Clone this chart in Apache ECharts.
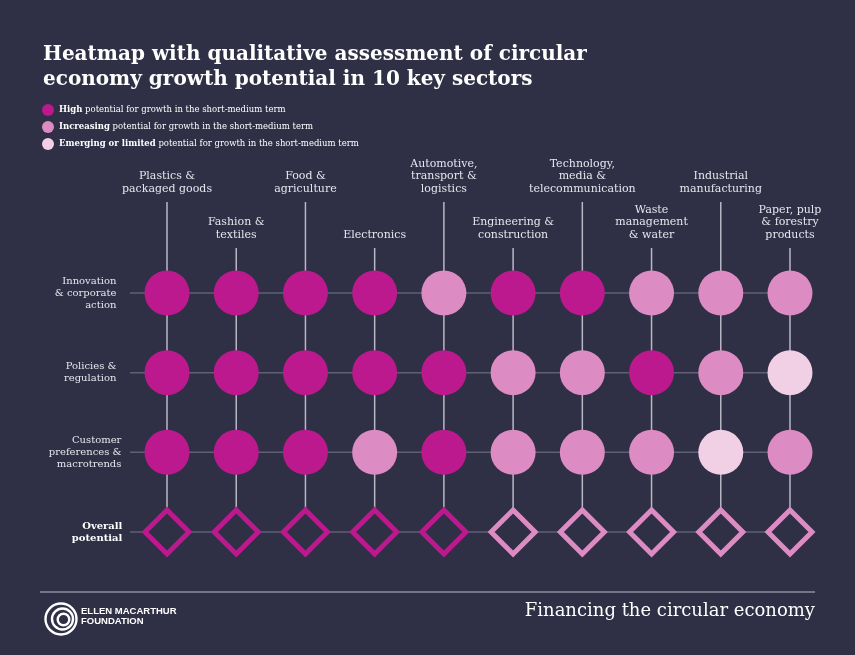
<!DOCTYPE html>
<html><head><meta charset="utf-8">
<script src="https://cdn.jsdelivr.net/npm/echarts@6/dist/echarts.min.js"></script>
<style>html,body{margin:0;padding:0;background:#2f2f45}#c{width:855px;height:655px}</style>
</head><body><div id="c"></div>
<script>
const sectors = ['Plastics &\npackaged goods','Fashion &\ntextiles','Food &\nagriculture','Electronics','Automotive,\ntransport &\nlogistics','Engineering &\nconstruction','Technology,\nmedia &\ntelecommunication','Waste\nmanagement\n& water','Industrial\nmanufacturing','Paper, pulp\n& forestry\nproducts'];
const factors = ['Innovation\n& corporate\naction','Policies &\nregulation','Customer\npreferences &\nmacrotrends','Overall\npotential'];
// 3 = High, 2 = Increasing, 1 = Emerging or limited
const innovation = [3,3,3,3,2,3,3,2,2,2];
const policies   = [3,3,3,3,3,2,2,3,2,1];
const customer   = [3,3,3,2,3,2,2,2,1,2];
const overall    = [3,3,3,3,3,2,2,2,2,2];
const levelNames = {3:'High', 2:'Increasing', 1:'Emerging or limited'};
const levelColors = {3:'#bb198d', 2:'#dd8bc3', 1:'#f1cfe5'};

const SERIF = "'DejaVu Serif', serif";
const BG = '#2f2f45';
const rowsData = [innovation, policies, customer];
const circleSeries = [3,2,1].map(lv => {
  const pts = [];
  rowsData.forEach((arr, r) => arr.forEach((v, c) => { if (v === lv) pts.push([c, r]); }));
  return {
    name: levelNames[lv], type: 'scatter', symbol: 'circle', symbolSize: 45, z: 5,
    itemStyle: {color: levelColors[lv], opacity: 1}, data: pts, silent: true
  };
});
const diamondData = overall.map((v, c) => ({value: [c, 3], itemStyle: {borderColor: levelColors[v]}}));

const chart = echarts.init(document.getElementById('c'));
chart.setOption({
  backgroundColor: BG,
  animation: false,
  title: {
    text: 'Heatmap with qualitative assessment of circular\neconomy growth potential in 10 key sectors',
    left: 38, top: 37,
    textStyle: {color: '#ffffff', fontFamily: SERIF, fontWeight: 'bold', fontSize: 20, lineHeight: 25}
  },
  legend: {
    data: ['High','Increasing','Emerging or limited'],
    orient: 'vertical', left: 37, top: 99, icon: 'circle', itemWidth: 12, itemHeight: 12, itemGap: 5,
    selectedMode: false,
    formatter: n => '{b|' + n + '} potential for growth in the short-medium term',
    textStyle: {color: '#ffffff', fontFamily: SERIF, fontSize: 8.5,
      rich: {b: {fontWeight: 'bold', fontFamily: SERIF, fontSize: 8.5, color: '#ffffff'}}}
  },
  grid: {left: 132.4, right: 30.4, top: 253.2, bottom: 83.2},
  xAxis: {type: 'category', data: sectors, show: false},
  yAxis: {
    type: 'category', data: factors, inverse: true,
    axisLine: {show: false}, axisTick: {show: false}, splitLine: {show: false},
    axisLabel: {
      margin: 10, align: 'right',
      formatter: (v, i) => v.split('\n').map(s => '{' + (i === 3 ? 'b' : (i < 2 ? 'n' : 'm')) + '|' + s + '}').join('\n'),
      rich: {
        n: {color: '#e6e6ee', fontFamily: SERIF, fontSize: 10, lineHeight: 12, padding: [0, 6, 0, 0]},
        m: {color: '#e6e6ee', fontFamily: SERIF, fontSize: 10, lineHeight: 12, padding: [0, 1, 0, 0]},
        b: {color: '#ffffff', fontFamily: SERIF, fontSize: 10, fontWeight: 'bold', lineHeight: 12}
      }
    }
  },
  graphic: [
    {type: 'line', shape: {x1: 40, y1: 592, x2: 815, y2: 592}, style: {stroke: '#8e8ea0', lineWidth: 1.5}},
    {type: 'circle', shape: {cx: 61, cy: 619, r: 15.5}, style: {fill: 'none', stroke: '#ffffff', lineWidth: 2.4}},
    {type: 'circle', shape: {cx: 62.5, cy: 619, r: 10.5}, style: {fill: 'none', stroke: '#ffffff', lineWidth: 2.4}},
    {type: 'circle', shape: {cx: 63.5, cy: 619.5, r: 5.8}, style: {fill: 'none', stroke: '#ffffff', lineWidth: 2.4}},
    {type: 'text', left: 81, top: 606, style: {text: 'ELLEN MACARTHUR\nFOUNDATION', fill: '#ffffff', font: "bold 9.5px 'Liberation Sans', Roboto, sans-serif", lineHeight: 10}},
    {type: 'text', right: 40, top: 602, style: {text: 'Financing the circular economy', fill: '#ffffff', font: "18px " + SERIF, textAlign: 'right'}}
  ],
  series: [
    { // vertical guide lines per sector
      type: 'custom', silent: true, z: 1,
      data: sectors.map((s, c) => [c, 0]),
      renderItem: (params, api) => {
        const c = api.value(0);
        const top = api.coord([c, 0]);
        const bot = api.coord([c, 3]);
        const y1 = top[1] - (c % 2 === 0 ? 91 : 45);
        return {type: 'line', shape: {x1: top[0], y1: y1, x2: top[0], y2: bot[1] - 24},
          style: {stroke: '#b8b8c6', lineWidth: 1.5}};
      }
    },
    { // horizontal guide lines per factor
      type: 'custom', silent: true, z: 1,
      data: factors.map((f, r) => [0, r]),
      renderItem: (params, api) => {
        const r = api.value(1);
        const a = api.coord([0, r]);
        const b = api.coord([sectors.length - 1, r]);
        return {type: 'line', shape: {x1: a[0] - 37, y1: a[1], x2: b[0], y2: b[1]},
          style: {stroke: '#5f5f75', lineWidth: 1.5}};
      }
    },
    { // sector labels
      type: 'custom', silent: true, z: 2,
      data: sectors.map((s, c) => [c, 0]),
      renderItem: (params, api) => {
        const c = api.value(0);
        const p = api.coord([c, 0]);
        return {type: 'text', x: p[0], y: p[1] - (c % 2 === 0 ? 98 : 52),
          style: {text: sectors[c], fill: '#e6e6ee', font: '11px ' + SERIF, textAlign: 'center', textVerticalAlign: 'bottom', lineHeight: 12.5}};
      }
    },
    ...circleSeries,
    {
      name: 'Overall', type: 'scatter', symbol: 'diamond', symbolSize: 44, z: 5, silent: true,
      itemStyle: {color: BG, borderWidth: 5, opacity: 1},
      data: diamondData
    }
  ]
});
</script></body></html>
